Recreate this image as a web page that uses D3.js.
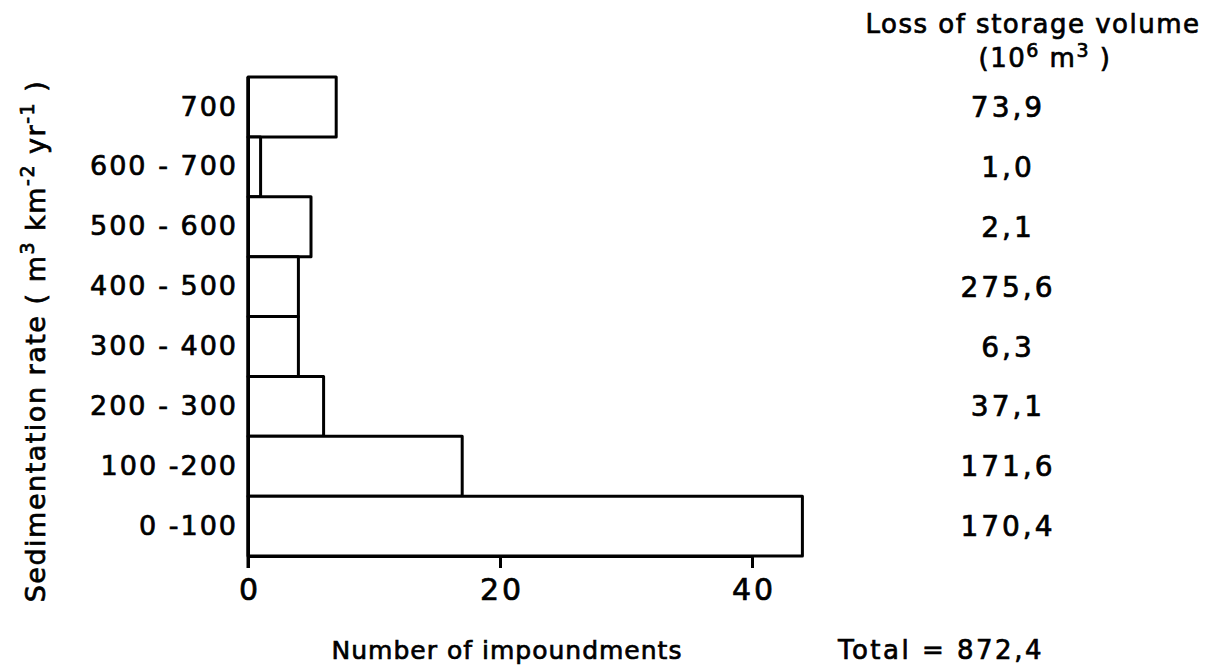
<!DOCTYPE html>
<html>
<head>
<meta charset="utf-8">
<script src="https://cdn.jsdelivr.net/npm/d3@7"></script>
<style>
  body { margin: 0; background: #fff; }
  svg text { font-family: "DejaVu Sans", sans-serif; fill: #000; stroke: #000; stroke-width: 0.7px; }
</style>
</head>
<body>
<svg id="chart" width="1215" height="667"></svg>
<script>
// sedimentation rate classes, top to bottom
const categories = ["700", "600 - 700", "500 - 600", "400 - 500", "300 - 400", "200 - 300", "100 -200", "0 -100"];
// number of impoundments per class
const counts = [7, 1, 5, 4, 4, 6, 17, 44];
// loss of storage volume (10^6 m3), printed labels
const losses = ["73,9", "1,0", "2,1", "275,6", "6,3", "37,1", "171,6", "170,4"];
const xTicks = [0, 20, 40];
const totalLabel = "Total  = 872,4";

const data = categories.map((c, i) => ({ cat: c, n: counts[i], loss: losses[i] }));

const svg = d3.select("#chart");

const x = d3.scaleLinear().domain([0, 40]).range([248, 752]);
const y = d3.scaleBand().domain(categories).range([77, 556]).padding(0);

/* BARS */
svg.append("g")
  .attr("class", "bars")
  .selectAll("rect")
  .data(data)
  .join("rect")
  .attr("x", x(0))
  .attr("y", d => y(d.cat))
  .attr("width", d => x(d.n) - x(0))
  .attr("height", y.bandwidth())
  .attr("fill", "#fff")
  .attr("stroke", "#000")
  .attr("stroke-width", 3)
  .attr("stroke-linejoin", "round");

/* AXES */
const xAxis = svg.append("g")
  .attr("transform", `translate(0,${y.range()[1]})`)
  .call(d3.axisBottom(x).tickValues(xTicks).tickSize(12).tickSizeOuter(0).tickPadding(11));
xAxis.select(".domain").attr("stroke-width", 3);
xAxis.selectAll(".tick line").attr("stroke-width", 3);
xAxis.selectAll(".tick text")
  .style("font-size", "30px")
  .style("letter-spacing", "3px")
  .attr("dx", "1.5px");

const yAxis = svg.append("g")
  .attr("transform", `translate(${x(0)},0)`)
  .call(d3.axisLeft(y).tickSize(0).tickPadding(10));
yAxis.select(".domain").attr("stroke-width", 3);
yAxis.selectAll(".tick text")
  .style("font-size", "27px")
  .style("letter-spacing", "2px");

// y axis line continues down through the 0 tick
svg.append("line")
  .attr("x1", x(0)).attr("x2", x(0))
  .attr("y1", y.range()[0]).attr("y2", y.range()[1] + 12)
  .attr("stroke", "#000").attr("stroke-width", 3);

/* AXIS TITLES */
svg.append("text")
  .attr("x", 507).attr("y", 659)
  .attr("text-anchor", "middle")
  .style("font-size", "25px")
  .style("letter-spacing", "1px")
  .text("Number  of  impoundments");

const yTitle = svg.append("text")
  .attr("transform", "translate(45,341) rotate(-90)")
  .attr("text-anchor", "middle")
  .style("font-size", "27px")
  .style("letter-spacing", "1.5px");
yTitle.append("tspan").text("Sedimentation  rate  ( m");
yTitle.append("tspan").attr("dy", -11).style("font-size", "19px").text("3");
yTitle.append("tspan").attr("dy", 11).text(" km");
yTitle.append("tspan").attr("dy", -11).style("font-size", "19px").text("-2");
yTitle.append("tspan").attr("dy", 11).text(" yr");
yTitle.append("tspan").attr("dy", -11).style("font-size", "19px").text("-1");
yTitle.append("tspan").attr("dy", 11).text(" )");

/* LOSS COLUMN */
svg.append("text")
  .attr("x", 1033).attr("y", 33)
  .attr("text-anchor", "middle")
  .style("font-size", "26px")
  .style("letter-spacing", "1.5px")
  .text("Loss  of  storage  volume");

const unit = svg.append("text")
  .attr("x", 1045).attr("y", 67)
  .attr("text-anchor", "middle")
  .style("font-size", "26px")
  .style("letter-spacing", "1.5px");
unit.append("tspan").text("(10");
unit.append("tspan").attr("dy", -10).style("font-size", "19px").text("6");
unit.append("tspan").attr("dy", 10).text("  m");
unit.append("tspan").attr("dy", -10).style("font-size", "19px").text("3");
unit.append("tspan").attr("dy", 10).text(" )");

svg.append("g")
  .attr("class", "losses")
  .selectAll("text")
  .data(data)
  .join("text")
  .attr("x", 1008)
  .attr("y", d => y(d.cat) + y.bandwidth() / 2)
  .attr("dy", "0.36em")
  .attr("text-anchor", "middle")
  .style("font-size", "28px")
  .style("letter-spacing", "3px")
  .text(d => d.loss);

svg.append("text")
  .attr("x", 838).attr("y", 659)
  .style("font-size", "26px")
  .style("letter-spacing", "2.5px")
  .text(totalLabel);
</script>
</body>
</html>
